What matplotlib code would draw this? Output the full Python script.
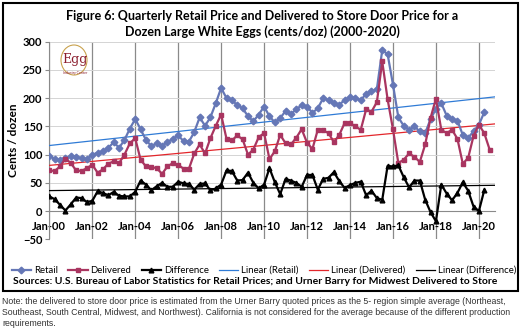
import matplotlib
matplotlib.use("Agg")
import matplotlib.pyplot as plt
from matplotlib.patches import Rectangle, Ellipse
import numpy as np

# datos trimestrales 2000Q1 - 2020Q3 (cents/doz)
retail = [98, 92, 90, 94,
          97, 96, 94, 92,
          100, 103, 106, 112,
          122, 112, 126, 146,
          163, 145, 126, 115,
          120, 116, 122, 128,
          134, 124, 123, 140,
          166, 151, 166, 191,
          218, 200, 196, 188,
          182, 168, 159, 171,
          185, 168, 157, 165,
          177, 172, 180, 188,
          185, 174, 182, 200,
          197, 191, 188, 197,
          202, 200, 196, 208,
          212, 216, 285, 278,
          224, 166, 151, 144,
          150, 141, 138, 163,
          181, 191, 169, 163,
          160, 135, 130, 141,
          153, 175]

delivered = [72, 71, 79, 93,
             85, 72, 71, 76,
             82, 68, 74, 84,
             88, 85, 100, 120,
             129, 91, 79, 78,
             76, 66, 79, 85,
             82, 75, 75, 102,
             118, 102, 129, 151,
             171, 128, 125, 134,
             127, 100, 109, 131,
             138, 92, 106, 135,
             120, 118, 130, 145,
             121, 110, 144, 143,
             138, 122, 135, 156,
             156, 150, 144, 180,
             176, 193, 265, 198,
             145, 85, 91, 102,
             96, 87, 118, 165,
             199, 144, 138, 144,
             128, 84, 94, 133,
             153, 138, 109]

difference = [26, 21, 11, 1,
              12, 24, 23, 16,
              18, 35, 32, 28,
              34, 27, 26, 26,
              34, 54, 47, 37,
              44, 50, 43, 43,
              52, 49, 48, 38,
              48, 49, 37, 40,
              47, 72, 71, 54,
              55, 68, 50, 40,
              47, 76, 51, 30,
              57, 54, 50, 43,
              64, 64, 38, 57,
              59, 69, 53, 41,
              46, 50, 52, 28,
              36, 23, 20, 80,
              79, 81, 60, 42,
              54, 54, 20, -2,
              -18, 47, 31, 19,
              32, 51, 36, 8,
              0, 37]

tick_years = [2000, 2002, 2004, 2006, 2008, 2010, 2012, 2014, 2016, 2018, 2020]
tick_labels = ["Jan-00", "Jan-02", "Jan-04", "Jan-06", "Jan-08", "Jan-10",
               "Jan-12", "Jan-14", "Jan-16", "Jan-18", "Jan-20"]

titulo = ("Figure 6: Quarterly Retail Price and Delivered to Store Door Price for a\n"
          "Dozen Large White Eggs (cents/doz) (2000-2020)")
fuentes = ("Sources: U.S. Bureau of Labor Statistics for Retail Prices; "
           "and Urner Barry for Midwest Delivered to Store")
nota = ("Note: the delivered to store door price is estimated from the Urner Barry quoted prices "
        "as the 5- region simple average (Northeast,\n"
        "Southeast, South Central, Midwest, and Northwest). California is not considered for "
        "the average because of the different production\nrequirements.")

plt.rcParams['font.family'] = ['Lato', 'DejaVu Sans']

W, H = 523, 334
fig = plt.figure(figsize=(W / 100, H / 100), dpi=100)

def fx(x):
    return x / W

def fy(y):
    return 1 - y / H

# area del grafico
x0, x1 = 49.3, 495.0
y0, y1 = 41.7, 239.3
ax = fig.add_axes([fx(x0), fy(y1), fx(x1) - fx(x0), fy(y0) - fy(y1)])

t_ret = 2000 + 0.25 * np.arange(len(retail))
t_del = 2000 + 0.25 * np.arange(len(delivered))
t_dif = 2000 + 0.25 * np.arange(len(difference))
x_end = 2020.75

c_ret = '#6577B6'
c_del = '#A93560'
c_dif = '#000000'

ax.plot(t_ret, retail, color=c_ret, lw=1.6, marker='D', ms=3.4, label='Retail', zorder=4)
ax.plot(t_del, delivered, color=c_del, lw=1.6, marker='s', ms=3.4, label='Delivered', zorder=4)
ax.plot(t_dif, difference, color=c_dif, lw=1.6, marker='^', ms=3.4, label='Difference', zorder=4)

# lineas de tendencia (lineal, como en Excel)
tt = np.array([2000, x_end])
for t, v, col, nombre in [(t_ret, retail, '#2F7BD6', 'Linear (Retail)'),
                          (t_del, delivered, '#E3262B', 'Linear (Delivered)'),
                          (t_dif, difference, '#000000', 'Linear (Difference)')]:
    m, b = np.polyfit(t, v, 1)
    ax.plot(tt, m * tt + b, color=col, lw=0.9, label=nombre, zorder=3)

ax.set_xlim(2000, x_end)
ax.set_ylim(-50, 300)
ax.set_yticks(np.arange(-50, 301, 50))
ax.set_xticks(tick_years)
ax.set_xticklabels(tick_labels)

ax.grid(axis='x', color='#8a8a8a', lw=0.9)
ax.grid(axis='y', color='#d4d4d4', lw=0.7)
ax.set_axisbelow(True)

for s in ['top', 'right']:
    ax.spines[s].set_visible(False)
ax.spines['left'].set_color('#8a8a8a')
ax.spines['bottom'].set_color('#8a8a8a')
ax.spines['bottom'].set_position(('data', 0))

ax.tick_params(axis='y', length=3, color='#8a8a8a', labelsize=8, pad=2)
ax.tick_params(axis='x', length=0, labelsize=8, pad=7)
for lab in ax.get_xticklabels() + ax.get_yticklabels():
    lab.set_fontweight('bold')

ax.set_ylabel('Cents / dozen', fontsize=8.5, fontweight='bold', labelpad=3)

# titulo
fig.text(fx(262), fy(24), titulo, ha='center', va='center', fontsize=9,
         fontweight='bold', linespacing=1.25)

# logo aproximado
fig.patches.append(Ellipse((fx(74), fy(60)), 26 / W, 30 / H, transform=fig.transFigure,
                           fill=False, ec='#C9A24E', lw=0.8))
fig.text(fx(75), fy(60), 'Egg', ha='center', va='center', fontsize=9,
         family='DejaVu Serif', color='#8B1E2E')
fig.text(fx(75), fy(73), 'Industry Center', ha='center', va='center', fontsize=2.5,
         color='#8B1E2E')

# leyenda
fig.legend(loc='center', bbox_to_anchor=(fx(264), fy(270.5)), ncol=6, frameon=False,
           fontsize=6.9, handlelength=2.0, handletextpad=0.3, columnspacing=1.1,
           borderaxespad=0, borderpad=0)

fig.text(fx(255), fy(281), fuentes, ha='center', va='center', fontsize=7.5,
         fontweight='bold')

# marco
fig.patches.append(Rectangle((fx(3), fy(291)), fx(515), 288 / H, transform=fig.transFigure,
                             fill=False, ec='black', lw=1.5))

fig.text(fx(2), fy(297), nota, ha='left', va='top', fontsize=6.3,
         family='Liberation Sans', color='#333333', linespacing=1.3)

fig.savefig('out.png', dpi=100)
